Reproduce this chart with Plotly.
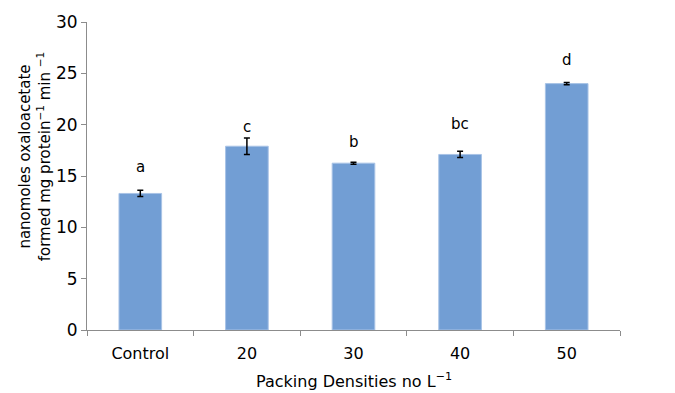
import plotly.graph_objects as go

# Enzyme activity per packing density
categories = ["Control", "20", "30", "40", "50"]
activity = [13.3, 17.9, 16.25, 17.1, 24.0]
std_err = [0.3, 0.8, 0.1, 0.3, 0.1]
letters = ["a", "c", "b", "bc", "d"]
letter_y = [15.9, 19.8, 18.3, 20.1, 26.3]

FONT = "DejaVu Sans"

fig = go.Figure()
fig.add_trace(go.Bar(
    x=categories,
    y=activity,
    width=0.4,
    marker=dict(color="#729ed4", line=dict(color="#a8c3e6", width=1)),
    error_y=dict(type="data", array=std_err, visible=True,
                 color="black", thickness=1.5, width=3),
))

# significance letters; category axes take the category index as position
for i, (ly, txt) in enumerate(zip(letter_y, letters)):
    fig.add_annotation(x=i, y=ly, xref="x", yref="y", text=txt, showarrow=False,
                       font=dict(family=FONT, size=15, color="black"))

# axis titles placed as paper-anchored annotations
fig.add_annotation(
    text="nanomoles oxaloacetate<br>formed mg protein<sup>−1</sup> min <sup>−1</sup>",
    xref="paper", yref="paper", x=-0.097, y=0.565,
    xanchor="center", yanchor="middle", textangle=-90, showarrow=False,
    font=dict(family=FONT, size=15, color="black"),
)
fig.add_annotation(
    text="Packing Densities no L<sup>−1</sup>",
    xref="paper", yref="paper", x=0.5, y=-0.165,
    xanchor="center", yanchor="middle", showarrow=False,
    font=dict(family=FONT, size=16, color="black"),
)

fig.update_layout(
    width=675, height=393,
    margin=dict(l=87, r=55, t=18, b=63),
    paper_bgcolor="white", plot_bgcolor="white",
    showlegend=False,
    font=dict(family=FONT, size=15, color="black"),
)
fig.update_xaxes(
    type="category",
    categoryorder="array", categoryarray=categories,
    range=[-0.5, len(categories) - 0.5],
    showline=True, linecolor="#8c8c8c", linewidth=1,
    ticks="outside", tickson="boundaries", ticklen=5, tickcolor="#8c8c8c",
    tickfont=dict(family=FONT, size=16), tickangle=0, ticklabelstandoff=9,
    showgrid=False,
)
fig.update_yaxes(
    range=[0, 30], dtick=5,
    showline=True, linecolor="#8c8c8c", linewidth=1,
    ticks="outside", ticklen=5, tickcolor="#8c8c8c",
    tickfont=dict(family=FONT, size=17),
    showgrid=False, zeroline=False,
)

fig.write_html("out.html")
